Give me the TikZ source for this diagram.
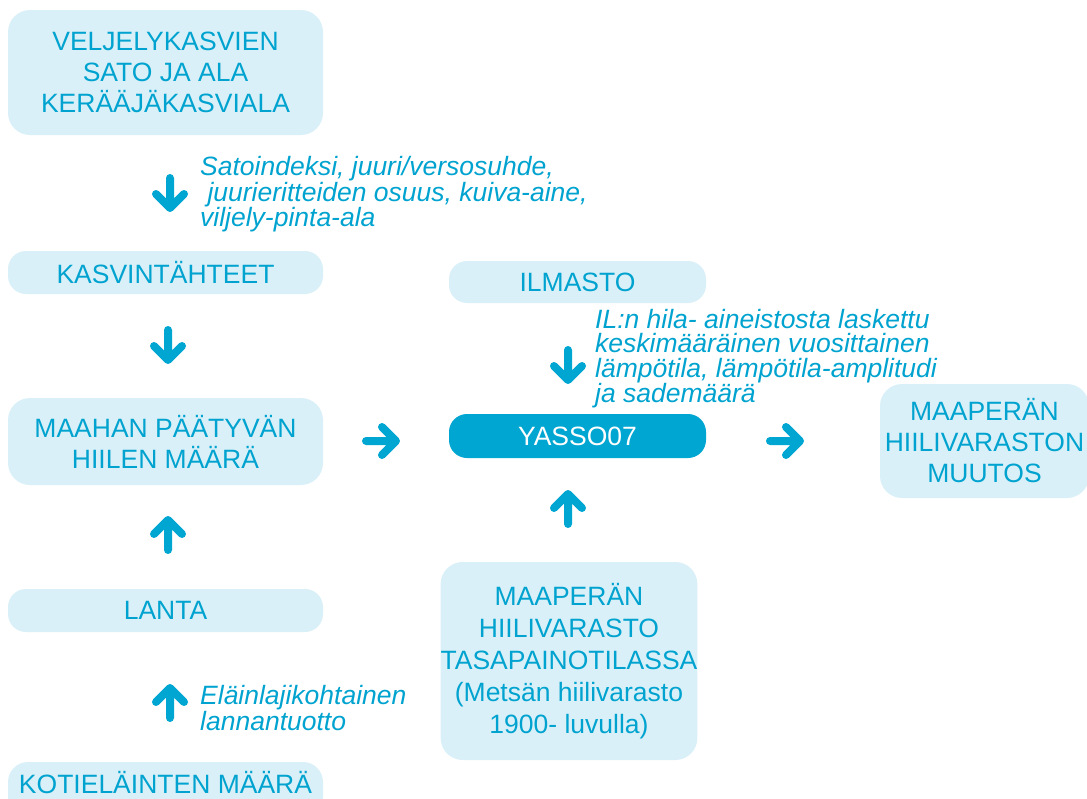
\documentclass[tikz,border=0pt]{standalone}
\usepackage{fontspec}
\setmainfont{Liberation Sans}
\definecolor{txt}{HTML}{00A3CF}
\definecolor{boxc}{HTML}{DAF0F8}
\definecolor{dark}{HTML}{00A6D2}
\tikzset{
  lbox/.style={fill=boxc, rounded corners=22pt, inner sep=0pt, align=center, text=txt,
    font=\fontsize{26.5}{31}\selectfont},
  dbox/.style={lbox, fill=dark, text=white},
  note/.style={anchor=north west, inner sep=0pt, align=left, text=txt,
    font=\itshape\fontsize{26.5}{24.3}\selectfont},
  chevline/.style={draw=dark, line width=8pt, line cap=round, line join=round},
  chev/.pic={\draw[chevline] (-15,0) -- (15,0) (1,-14) -- (15,0) -- (1,14);}
}
\begin{document}
\begin{tikzpicture}[x=1pt,y=-1pt]
\path[use as bounding box] (0,0) rectangle (1087,798);
\begin{scope}
\clip (0,0) rectangle (1087,798);
\node[lbox, minimum width=315pt, minimum height=125pt] (velj) at (165.5,72.5)
  {VELJELYKASVIEN\\SATO JA ALA\\KERÄÄJÄKASVIALA};
\node[lbox, rounded corners=18pt, minimum width=315pt, minimum height=43pt] (kasv) at (165.5,272.5) {KASVINTÄHTEET};
\node[lbox, rounded corners=18pt, minimum width=257pt, minimum height=42pt] (ilm) at (577.5,282) {ILMASTO};
\node[lbox, minimum width=315pt, minimum height=87pt] (maah) at (165.5,441.5)
  {MAAHAN PÄÄTYVÄN\\HIILEN MÄÄRÄ};
\node[dbox, rounded corners=18pt, minimum width=257pt, minimum height=44pt] (yasso) at (577.5,436) {YASSO07};
\node[lbox, minimum width=209pt, minimum height=114pt] (muut) at (984.5,441)
  {MAAPERÄN\\HIILIVARASTON\\MUUTOS};
\node[lbox, rounded corners=18pt, minimum width=315pt, minimum height=43pt] (lanta) at (165.5,610.5) {LANTA};
\node[lbox, font=\fontsize{26.5}{32}\selectfont, minimum width=256pt, minimum height=198pt] (tasa) at (569,661)
  {MAAPERÄN\\HIILIVARASTO\\TASAPAINOTILASSA\\(Metsän hiilivarasto\\1900- luvulla)};
\node[lbox, rounded corners=20pt, minimum width=315pt, minimum height=56pt] (koti) at (165.5,790) {};
\node[text=txt, font=\fontsize{26.5}{31}\selectfont, inner sep=0pt] (kotit) at (165.5,783) {KOTIELÄINTEN MÄÄRÄ};
\end{scope}

\node[note] (n1) at (200,156) {Satoindeksi, juuri/versosuhde,\\\ juurieritteiden osuus, kuiva-aine,\\viljely-pinta-ala};
\node[note] (n2) at (595,309) {IL:n hila- aineistosta laskettu\\keskimääräinen vuosittainen\\lämpötila, lämpötila-amplitudi\\ja sademäärä};
\node[note] (n3) at (200,685) {Eläinlajikohtainen\\lannantuotto};

\pic[rotate=-90] at (170,193) {chev};
\pic[rotate=-90] at (168,345) {chev};
\pic[rotate=90] at (168,535) {chev};
\pic[rotate=90] at (170,703) {chev};
\pic at (381,441) {chev};
\pic at (785,441) {chev};
\pic[rotate=-90] at (568,365) {chev};
\pic[rotate=90] at (568,509) {chev};
\end{tikzpicture}
\end{document}
